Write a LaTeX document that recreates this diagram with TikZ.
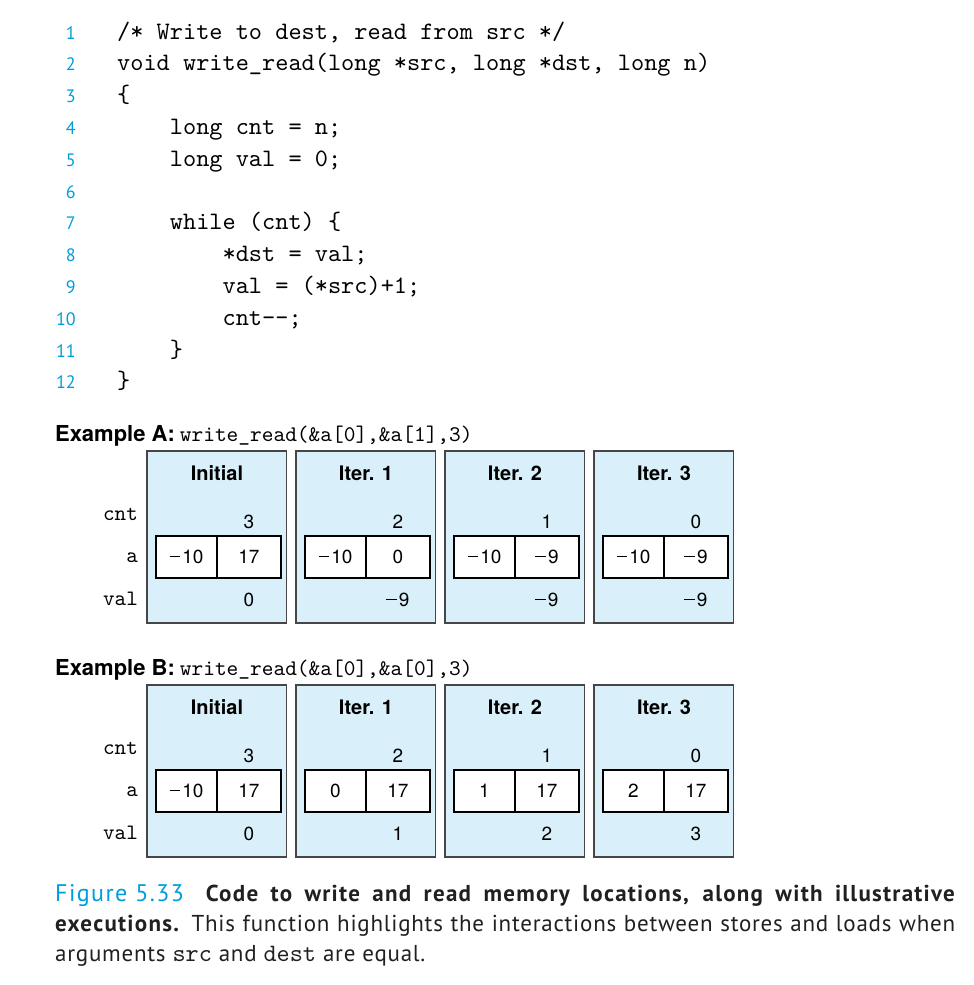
\documentclass[tikz,border=0pt]{standalone}
\usepackage{fontspec}
\setmainfont{PT Sans}
\setmonofont{lmmono10-regular.otf}
\newfontfamily\capfont{PT Sans}[LetterSpace=3.3, BoldFeatures={LetterSpace=5.5}]
\newfontfamily\figfont{PT Sans}[LetterSpace=6]
\newfontfamily\heros{TeX Gyre Heros}
\usetikzlibrary{positioning}

\definecolor{numblue}{RGB}{0,157,220}
\definecolor{panelfill}{RGB}{217,240,250}
\definecolor{panelline}{RGB}{70,70,70}
\definecolor{ink}{RGB}{35,31,32}

\newcommand{\fsz}[1]{\fontsize{#1}{1.2\dimexpr#1pt\relax}\selectfont}
% a thin, wide minus sign followed by a small gap
\newcommand{\mns}{\rule[0.33em]{0.55em}{0.075em}\kern0.12em}

\tikzset{
  codeline/.style={anchor=base west, inner sep=0pt, font=\ttfamily\fsz{25.1}},
  lineno/.style={anchor=base east, inner sep=0pt, text=numblue, font=\fsz{18}},
  panel/.style={draw=panelline, line width=1.1pt, fill=panelfill, anchor=north west,
    minimum width=139.5pt, minimum height=172pt, inner sep=0pt, outer sep=0pt},
  headtext/.style={anchor=base, inner sep=0pt, font=\heros\bfseries\fsz{20}},
  numtext/.style={anchor=base, inner sep=0pt, font=\heros\fsz{19}},
  cell/.style={draw=black, line width=2.2pt, fill=white, minimum height=42pt,
    inner sep=0pt, outer sep=0pt, font=\heros\fsz{19}},
  rowlabel/.style={anchor=base east, inner sep=0pt, font=\ttfamily\fsz{22}},
  exlabel/.style={anchor=base west, inner sep=0pt},
  capline/.style={anchor=base west, inner sep=0pt, text=ink, font=\capfont\fsz{23}}
}

% one state of the array: name, left x, top y, header, cnt, a[0], a[1], val
\newcommand{\statepanel}[8]{%
  \node[panel] (#1) at (#2,#3) {};
  \node[headtext] (#1-head) at (#2+70,#3+29) {#4};
  \node[numtext] (#1-cnt) at (#2+101.9,#3+77) {#5};
  \node[cell, anchor=north west, minimum width=61.5pt] (#1-a0) at (#2+8.7,#3+85) {#6};
  \node[cell, anchor=north west, minimum width=63.5pt] (#1-a1) at (#1-a0.north east) {#7};
  \node[numtext] (#1-val) at (#2+101.9,#3+155.5) {#8};
}

% row labels for one example, top y of its panels
\newcommand{\rowlabels}[2]{%
  \node[rowlabel] (#1-lcnt) at (138,#2+69) {cnt};
  \node[rowlabel] (#1-la) at (138,#2+111) {a};
  \node[rowlabel] (#1-lval) at (138,#2+154) {val};
}

\begin{document}
\begin{tikzpicture}[x=1pt,y=-1pt]
\useasboundingbox (0,0) rectangle (974,985);

% ---- source listing ----
\foreach \n in {1,...,12}{
  \node[lineno] (ln\n) at (76,39+31.8*\n-31.8) {\n};
}
\node[codeline] (c1) at (117,39+31.8*0) {/* Write to dest, read from src */};
\node[codeline] (c2) at (117,39+31.8*1) {void write\_read(long *src, long *dst, long n)};
\node[codeline] (c3) at (117,39+31.8*2) {\{};
\node[codeline] (c4) at (117+4*13.18,39+31.8*3) {long cnt = n;};
\node[codeline] (c5) at (117+4*13.18,39+31.8*4) {long val = 0;};
\node[codeline] (c7) at (117+4*13.18,39+31.8*6) {while (cnt) \{};
\node[codeline] (c8) at (117+8*13.18,39+31.8*7) {*dst = val;};
\node[codeline] (c9) at (117+8*13.18,39+31.8*8) {val = (*src)+1;};
\node[codeline] (c10) at (117+8*13.18,39+31.8*9) {cnt-{}-;};
\node[codeline] (c11) at (117+4*13.18,39+31.8*10) {\}};
\node[codeline] (c12) at (117,39+31.8*11) {\}};

% ---- example A ----
\node[exlabel] (exA) at (55,441) {{\heros\bfseries\fsz{22}Example A:}\hspace{5pt}{\ttfamily\fsz{22.3}write\_read(\&a[0],\&a[1],3)}};
\rowlabels{A}{451}
\statepanel{A0}{147}{451}{Initial}{3}{\mns 10}{17}{0}
\statepanel{A1}{296}{451}{Iter. 1}{2}{\mns 10}{0}{\mns 9}
\statepanel{A2}{445}{451}{Iter. 2}{1}{\mns 10}{\mns 9}{\mns 9}
\statepanel{A3}{594}{451}{Iter. 3}{0}{\mns 10}{\mns 9}{\mns 9}

% ---- example B ----
\node[exlabel] (exB) at (55,675) {{\heros\bfseries\fsz{22}Example B:}\hspace{5pt}{\ttfamily\fsz{22.3}write\_read(\&a[0],\&a[0],3)}};
\rowlabels{B}{685}
\statepanel{B0}{147}{685}{Initial}{3}{\mns 10}{17}{0}
\statepanel{B1}{296}{685}{Iter. 1}{2}{0}{17}{1}
\statepanel{B2}{445}{685}{Iter. 2}{1}{1}{17}{2}
\statepanel{B3}{594}{685}{Iter. 3}{0}{2}{17}{3}

% ---- caption ----
\node[capline] (cap1) at (55,901) {\makebox[901pt][s]{\mbox{\figfont\fsz{24}\color{numblue}Figure 5.33}\hspace{22pt}\textbf{Code to write and read memory locations, along with illustrative}}};
\node[capline] (cap2) at (55,931.5) {\makebox[900pt][s]{\textbf{executions.} This function highlights the interactions between stores and loads when}};
\node[capline] (cap3) at (55,961) {arguments {\ttfamily\fsz{25}src} and {\ttfamily\fsz{25}dest} are equal.};
\end{tikzpicture}
\end{document}
